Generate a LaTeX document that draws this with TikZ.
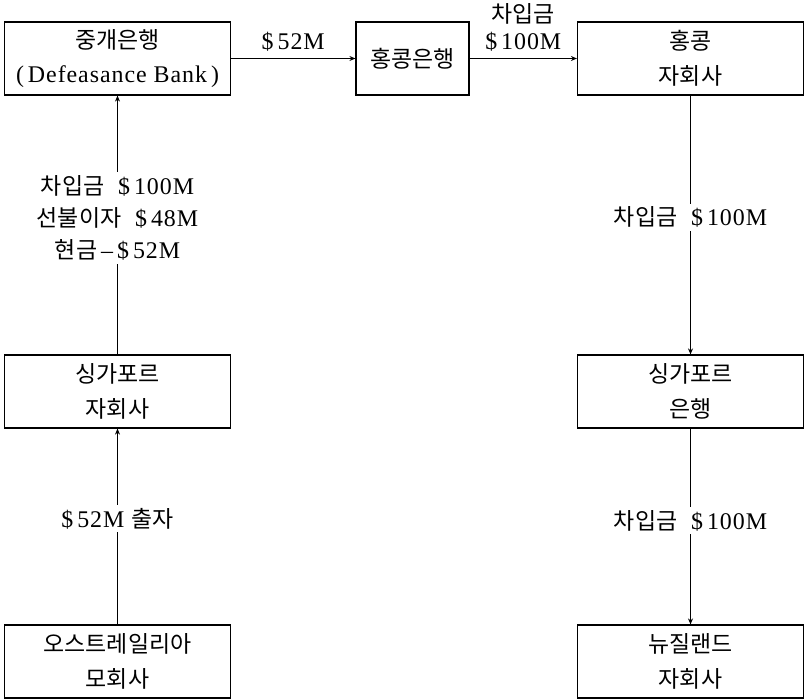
\documentclass[tikz,border=0pt]{standalone}
\usepackage{fontspec}
\setmainfont{Liberation Serif}[LetterSpace=4]
\newfontfamily\kr{Noto Sans CJK KR}[Scale=0.96]
\usetikzlibrary{positioning,arrows.meta}

\begin{document}
\begin{tikzpicture}[%
    x=1bp, y=-1bp,
    >={Stealth[length=6bp,width=5bp]},
    on grid,
    box/.style={draw, line width=1.2bp, minimum height=73bp, align=center,
      font=\fontsize{24}{35}\selectfont, inner sep=0pt},
    wide/.style={box, minimum width=226bp},
    flow/.style={->, line width=1.2bp},
    tag/.style={fill=white, align=center, font=\fontsize{24}{32}\selectfont},
    toptag/.style={above=5bp, align=center, inner sep=2bp, font=\fontsize{24}{27}\selectfont}
  ]
    \useasboundingbox (0,0) rectangle (807,699);

    \node[wide] (mid) at (117.5,58.5) {{\kr 중개은행}\\(\,Defeasance Bank\,)};
    \node[box, minimum width=113bp] (hkbank) [right=295bp of mid] {{\kr 홍콩은행}};
    \node[wide] (hksub) [right=278bp of hkbank] {{\kr 홍콩}\\{\kr 자회사}};
    \node[wide] (sgsub) [below=333bp of mid] {{\kr 싱가포르}\\{\kr 자회사}};
    \node[wide] (parent) [below=270bp of sgsub] {{\kr 오스트레일리아}\\{\kr 모회사}};
    \node[wide] (sgbank) [below=333bp of hksub] {{\kr 싱가포르}\\{\kr 은행}};
    \node[wide] (nzsub) [below=270bp of sgbank] {{\kr 뉴질랜드}\\{\kr 자회사}};

    % flows
    \draw[flow] (mid) -- node[toptag] {\$\,52M} (hkbank);
    \draw[flow] (hkbank) -- node[toptag] {{\kr 차입금}\\\$\,100M} (hksub);
    \draw[flow] (sgsub) -- node[tag, pos=0.527] {{\kr 차입금}\ \ \$\,100M\\{\kr 선불이자}\ \ \$\,48M\\{\kr 현금}\,--\,\$\,52M} (mid);
    \draw[flow] (parent) -- node[tag, pos=0.54] {\$\,52M {\kr 출자}} (sgsub);
    \draw[flow] (hksub) -- node[tag, pos=0.47] {{\kr 차입금}\ \ \$\,100M} (sgbank);
    \draw[flow] (sgbank) -- node[tag, pos=0.47] {{\kr 차입금}\ \ \$\,100M} (nzsub);
  \end{tikzpicture}
\end{document}
